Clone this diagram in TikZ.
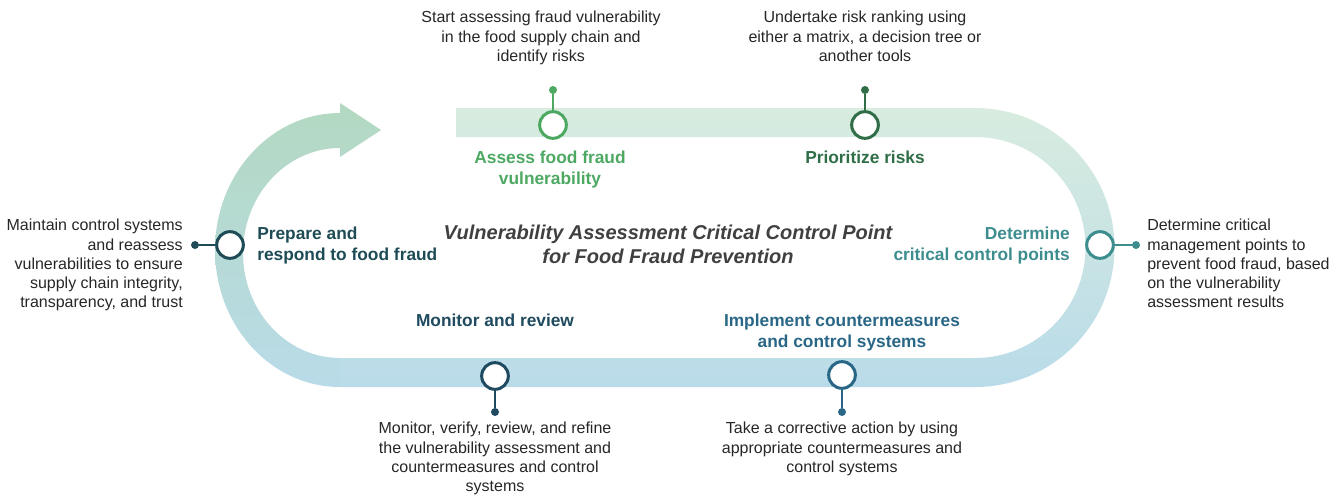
\documentclass[tikz,border=0pt]{standalone}
\usepackage{fontspec}
\setmainfont{Liberation Sans}
\usetikzlibrary{positioning}

\definecolor{bandgreen}{HTML}{D8ECDF}
\definecolor{arrowgreen}{HTML}{B3D9C1}
\definecolor{bandblue}{HTML}{B9DBE9}
\definecolor{cAssess}{HTML}{4DA862}
\definecolor{cPrior}{HTML}{2F6E47}
\definecolor{cDeterm}{HTML}{3D8C8E}
\definecolor{cImpl}{HTML}{2A6786}
\definecolor{cMonit}{HTML}{1F4A5F}
\definecolor{cPrep}{HTML}{1E4B55}
\definecolor{txt}{HTML}{262626}
\definecolor{ttl}{HTML}{404040}

\begin{document}
\begin{tikzpicture}[x=0.75pt,y=0.75pt,
    ring/.style={circle,draw=#1,fill=white,line width=2.25pt,minimum size=20pt,inner sep=0pt},
    tipdot/.style={circle,fill=#1,minimum size=6pt,inner sep=0pt},
    stem/.style={draw=#1,line width=1.5pt},
    head/.style={font=\fontsize{13}{15.6}\selectfont\bfseries,text=#1,inner sep=0pt},
    note/.style={font=\fontsize{12}{14.4}\selectfont,text=txt,inner sep=0pt}]
    \useasboundingbox (0,0) rectangle (1341,-496);
    % left curved arrow
    \shade [top color=arrowgreen,bottom color=bandblue]
        (340,-387) arc [start angle=270,end angle=90,x radius=125,y radius=137]
        -- (340,-103) -- (381,-130) -- (340,-157) -- (340,-148)
        arc [start angle=90,end angle=270,x radius=97,y radius=105] -- cycle;
    % loop band
    \shade [top color=bandgreen,bottom color=bandblue]
        (456,-108) -- (975,-108) arc [start angle=90,end angle=-90,radius=139.5]
        -- (340,-387) -- (340,-358) -- (975,-358)
        arc [start angle=-90,end angle=90,radius=110.5] -- (456,-137) -- cycle;
    % centre title
    \node [font=\fontsize{15}{18}\selectfont\bfseries\itshape,text=ttl,align=center] (title) at (668,-244)
        {Vulnerability Assessment Critical Control Point\\for Food Fraud Prevention};
    % markers on the band
    \node [ring=cAssess] (assess) at (553,-125) {};
    \node [ring=cPrior] (prior) at (865,-125) {};
    \node [ring=cDeterm] (determ) at (1100,-245) {};
    \node [ring=cImpl] (impl) at (842,-375) {};
    \node [ring=cMonit] (monit) at (495,-376) {};
    \node [ring=cPrep] (prep) at (230,-245) {};
    % pin dots
    \node [tipdot=cAssess] (assessdot) at (553,-90) {};
    \node [tipdot=cPrior] (priordot) at (865,-90) {};
    \node [tipdot=cDeterm] (determdot) at (1136,-245) {};
    \node [tipdot=cImpl] (impldot) at (842,-412) {};
    \node [tipdot=cMonit] (monitdot) at (495,-412) {};
    \node [tipdot=cPrep] (prepdot) at (195,-245) {};
    \draw [stem=cAssess] (assess) -- (assessdot);
    \draw [stem=cPrior] (prior) -- (priordot);
    \draw [stem=cDeterm] (determ) -- (determdot);
    \draw [stem=cImpl] (impl) -- (impldot);
    \draw [stem=cMonit] (monit) -- (monitdot);
    \draw [stem=cPrep] (prep) -- (prepdot);
    % step headings
    \node [head=cAssess,align=center,anchor=north] (assesshead) at (550,-151) {Assess food fraud\\vulnerability};
    \node [head=cPrior,anchor=north] (priorhead) at (865,-151) {Prioritize risks};
    \node [head=cDeterm,align=right,anchor=north east] (determhead) at (1070,-227) {Determine\\critical control points};
    \node [head=cImpl,align=center,anchor=north] (implhead) at (842,-314) {Implement countermeasures\\and control systems};
    \node [head=cMonit,anchor=north] (monithead) at (495,-314) {Monitor and review};
    \node [head=cPrep,align=left,anchor=north west] (prephead) at (257,-227) {Prepare and\\respond to food fraud};
    % descriptions
    \node [note,align=center,anchor=north] (assessnote) at (541,-11)
        {Start assessing fraud vulnerability\\in the food supply chain and\\identify risks};
    \node [note,align=center,anchor=north] (priornote) at (865,-11)
        {Undertake risk ranking using\\either a matrix, a decision tree or\\another tools};
    \node [note,align=left,anchor=north west] (determnote) at (1147,-219)
        {Determine critical\\management points to\\prevent food fraud, based\\on the vulnerability\\assessment results};
    \node [note,align=center,anchor=north] (implnote) at (842,-422)
        {Take a corrective action by using\\appropriate countermeasures and\\control systems};
    \node [note,align=center,anchor=north] (monitnote) at (495,-422)
        {Monitor, verify, review, and refine\\the vulnerability assessment and\\countermeasures and control\\systems};
    \node [note,align=right,anchor=north east] (prepnote) at (183,-219)
        {Maintain control systems\\and reassess\\vulnerabilities to ensure\\supply chain integrity,\\transparency, and trust};
\end{tikzpicture}
\end{document}
